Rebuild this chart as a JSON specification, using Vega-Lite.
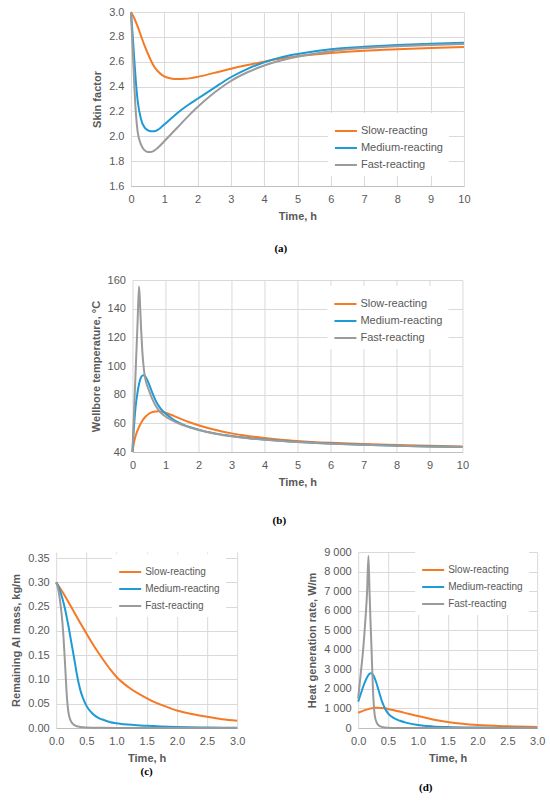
{
  "$schema": "https://vega.github.io/schema/vega-lite/v6.json",
  "padding": {"left": 10, "top": 6, "right": 2, "bottom": 5},
  "config": {
    "font": "Liberation Sans",
    "view": {"stroke": null},
    "axis": {
      "labelFontSize": 11,
      "labelColor": "#595959",
      "titleFontSize": 11,
      "titleColor": "#595959",
      "titleFontWeight": "bold",
      "gridColor": "#D9D9D9",
      "domainColor": "#BFBFBF",
      "ticks": false,
      "labelPadding": 7,
      "titlePadding": 6,
      "labelFlush": false
    },
    "axisY": {"domain": false},
    "legend": {
      "labelFontSize": 11,
      "labelColor": "#595959",
      "symbolType": "stroke",
      "symbolSize": 484,
      "symbolStrokeWidth": 2,
      "fillColor": "white",
      "padding": 6,
      "rowPadding": -5,
      "labelOffset": 3
    },
    "title": {
      "font": "Liberation Serif",
      "fontSize": 11,
      "fontWeight": "bold",
      "color": "#000000",
      "orient": "bottom",
      "anchor": "middle"
    },
    "line": {"strokeWidth": 2, "interpolate": "monotone"}
  },
  "datasets": {
    "skin": [
      {"s": "Slow-reacting", "t": 0, "v": 3.0},
      {"s": "Slow-reacting", "t": 0.1, "v": 2.95},
      {"s": "Slow-reacting", "t": 0.2, "v": 2.885},
      {"s": "Slow-reacting", "t": 0.3, "v": 2.81},
      {"s": "Slow-reacting", "t": 0.4, "v": 2.735},
      {"s": "Slow-reacting", "t": 0.5, "v": 2.67},
      {"s": "Slow-reacting", "t": 0.6, "v": 2.61},
      {"s": "Slow-reacting", "t": 0.7, "v": 2.56},
      {"s": "Slow-reacting", "t": 0.8, "v": 2.525},
      {"s": "Slow-reacting", "t": 0.9, "v": 2.5},
      {"s": "Slow-reacting", "t": 1.0, "v": 2.482},
      {"s": "Slow-reacting", "t": 1.2, "v": 2.465},
      {"s": "Slow-reacting", "t": 1.4, "v": 2.46},
      {"s": "Slow-reacting", "t": 1.6, "v": 2.462},
      {"s": "Slow-reacting", "t": 1.8, "v": 2.468},
      {"s": "Slow-reacting", "t": 2.0, "v": 2.478},
      {"s": "Slow-reacting", "t": 2.5, "v": 2.51},
      {"s": "Slow-reacting", "t": 3.0, "v": 2.543},
      {"s": "Slow-reacting", "t": 3.5, "v": 2.573},
      {"s": "Slow-reacting", "t": 4.0, "v": 2.6},
      {"s": "Slow-reacting", "t": 4.5, "v": 2.625},
      {"s": "Slow-reacting", "t": 5.0, "v": 2.645},
      {"s": "Slow-reacting", "t": 6, "v": 2.67},
      {"s": "Slow-reacting", "t": 7, "v": 2.688},
      {"s": "Slow-reacting", "t": 8, "v": 2.7},
      {"s": "Slow-reacting", "t": 9, "v": 2.71},
      {"s": "Slow-reacting", "t": 10, "v": 2.718},
      {"s": "Medium-reacting", "t": 0, "v": 3.0},
      {"s": "Medium-reacting", "t": 0.05, "v": 2.82},
      {"s": "Medium-reacting", "t": 0.1, "v": 2.62},
      {"s": "Medium-reacting", "t": 0.15, "v": 2.43},
      {"s": "Medium-reacting", "t": 0.2, "v": 2.29},
      {"s": "Medium-reacting", "t": 0.3, "v": 2.14},
      {"s": "Medium-reacting", "t": 0.4, "v": 2.075},
      {"s": "Medium-reacting", "t": 0.5, "v": 2.05},
      {"s": "Medium-reacting", "t": 0.6, "v": 2.04},
      {"s": "Medium-reacting", "t": 0.7, "v": 2.04},
      {"s": "Medium-reacting", "t": 0.8, "v": 2.051},
      {"s": "Medium-reacting", "t": 0.9, "v": 2.071},
      {"s": "Medium-reacting", "t": 1.0, "v": 2.094},
      {"s": "Medium-reacting", "t": 1.25, "v": 2.154},
      {"s": "Medium-reacting", "t": 1.5, "v": 2.21},
      {"s": "Medium-reacting", "t": 1.75, "v": 2.258},
      {"s": "Medium-reacting", "t": 2.0, "v": 2.302},
      {"s": "Medium-reacting", "t": 2.5, "v": 2.39},
      {"s": "Medium-reacting", "t": 3.0, "v": 2.475},
      {"s": "Medium-reacting", "t": 3.5, "v": 2.543},
      {"s": "Medium-reacting", "t": 4.0, "v": 2.595},
      {"s": "Medium-reacting", "t": 4.5, "v": 2.635},
      {"s": "Medium-reacting", "t": 5.0, "v": 2.662},
      {"s": "Medium-reacting", "t": 6, "v": 2.7},
      {"s": "Medium-reacting", "t": 7, "v": 2.72},
      {"s": "Medium-reacting", "t": 8, "v": 2.735},
      {"s": "Medium-reacting", "t": 9, "v": 2.745},
      {"s": "Medium-reacting", "t": 10, "v": 2.752},
      {"s": "Fast-reacting", "t": 0, "v": 3.0},
      {"s": "Fast-reacting", "t": 0.05, "v": 2.72},
      {"s": "Fast-reacting", "t": 0.1, "v": 2.42},
      {"s": "Fast-reacting", "t": 0.15, "v": 2.18},
      {"s": "Fast-reacting", "t": 0.2, "v": 2.04},
      {"s": "Fast-reacting", "t": 0.3, "v": 1.935},
      {"s": "Fast-reacting", "t": 0.4, "v": 1.89},
      {"s": "Fast-reacting", "t": 0.5, "v": 1.873},
      {"s": "Fast-reacting", "t": 0.6, "v": 1.874},
      {"s": "Fast-reacting", "t": 0.7, "v": 1.885},
      {"s": "Fast-reacting", "t": 0.8, "v": 1.905},
      {"s": "Fast-reacting", "t": 1.0, "v": 1.96},
      {"s": "Fast-reacting", "t": 1.25, "v": 2.03},
      {"s": "Fast-reacting", "t": 1.5, "v": 2.1},
      {"s": "Fast-reacting", "t": 1.75, "v": 2.17},
      {"s": "Fast-reacting", "t": 2.0, "v": 2.235},
      {"s": "Fast-reacting", "t": 2.5, "v": 2.35},
      {"s": "Fast-reacting", "t": 3.0, "v": 2.445},
      {"s": "Fast-reacting", "t": 3.5, "v": 2.515},
      {"s": "Fast-reacting", "t": 4.0, "v": 2.57},
      {"s": "Fast-reacting", "t": 4.5, "v": 2.61},
      {"s": "Fast-reacting", "t": 5.0, "v": 2.64},
      {"s": "Fast-reacting", "t": 6, "v": 2.685},
      {"s": "Fast-reacting", "t": 7, "v": 2.71},
      {"s": "Fast-reacting", "t": 8, "v": 2.725},
      {"s": "Fast-reacting", "t": 9, "v": 2.735},
      {"s": "Fast-reacting", "t": 10, "v": 2.742}
    ],
    "temp": [
      {"s": "Slow-reacting", "t": 0, "v": 40},
      {"s": "Slow-reacting", "t": 0.05, "v": 47},
      {"s": "Slow-reacting", "t": 0.1, "v": 51.5},
      {"s": "Slow-reacting", "t": 0.2, "v": 57.5},
      {"s": "Slow-reacting", "t": 0.3, "v": 61.8},
      {"s": "Slow-reacting", "t": 0.4, "v": 64.8},
      {"s": "Slow-reacting", "t": 0.5, "v": 66.7},
      {"s": "Slow-reacting", "t": 0.6, "v": 67.8},
      {"s": "Slow-reacting", "t": 0.7, "v": 68.3},
      {"s": "Slow-reacting", "t": 0.8, "v": 68.4},
      {"s": "Slow-reacting", "t": 0.9, "v": 68.1},
      {"s": "Slow-reacting", "t": 1.0, "v": 67.4},
      {"s": "Slow-reacting", "t": 1.25, "v": 65.2},
      {"s": "Slow-reacting", "t": 1.5, "v": 62.8},
      {"s": "Slow-reacting", "t": 1.75, "v": 60.6},
      {"s": "Slow-reacting", "t": 2.0, "v": 58.7},
      {"s": "Slow-reacting", "t": 2.5, "v": 55.5},
      {"s": "Slow-reacting", "t": 3.0, "v": 53.0},
      {"s": "Slow-reacting", "t": 3.5, "v": 51.2},
      {"s": "Slow-reacting", "t": 4.0, "v": 49.8},
      {"s": "Slow-reacting", "t": 4.5, "v": 48.6},
      {"s": "Slow-reacting", "t": 5.0, "v": 47.7},
      {"s": "Slow-reacting", "t": 6, "v": 46.4},
      {"s": "Slow-reacting", "t": 7, "v": 45.5},
      {"s": "Slow-reacting", "t": 8, "v": 44.8},
      {"s": "Slow-reacting", "t": 9, "v": 44.3},
      {"s": "Slow-reacting", "t": 10, "v": 43.9},
      {"s": "Medium-reacting", "t": 0, "v": 40},
      {"s": "Medium-reacting", "t": 0.03, "v": 52},
      {"s": "Medium-reacting", "t": 0.06, "v": 62},
      {"s": "Medium-reacting", "t": 0.1, "v": 72.5},
      {"s": "Medium-reacting", "t": 0.15, "v": 81},
      {"s": "Medium-reacting", "t": 0.2, "v": 87.5},
      {"s": "Medium-reacting", "t": 0.25, "v": 91.5},
      {"s": "Medium-reacting", "t": 0.3, "v": 93.3},
      {"s": "Medium-reacting", "t": 0.35, "v": 93.5},
      {"s": "Medium-reacting", "t": 0.4, "v": 92.3},
      {"s": "Medium-reacting", "t": 0.5, "v": 87.5},
      {"s": "Medium-reacting", "t": 0.6, "v": 81.5},
      {"s": "Medium-reacting", "t": 0.7, "v": 76},
      {"s": "Medium-reacting", "t": 0.8, "v": 72},
      {"s": "Medium-reacting", "t": 0.9, "v": 69},
      {"s": "Medium-reacting", "t": 1.0, "v": 66.8},
      {"s": "Medium-reacting", "t": 1.25, "v": 62.5},
      {"s": "Medium-reacting", "t": 1.5, "v": 59.5},
      {"s": "Medium-reacting", "t": 1.75, "v": 57.3},
      {"s": "Medium-reacting", "t": 2.0, "v": 55.6},
      {"s": "Medium-reacting", "t": 2.5, "v": 53.0},
      {"s": "Medium-reacting", "t": 3.0, "v": 51.2},
      {"s": "Medium-reacting", "t": 3.5, "v": 49.8},
      {"s": "Medium-reacting", "t": 4.0, "v": 48.7},
      {"s": "Medium-reacting", "t": 5.0, "v": 47.0},
      {"s": "Medium-reacting", "t": 6, "v": 45.9},
      {"s": "Medium-reacting", "t": 7, "v": 45.0},
      {"s": "Medium-reacting", "t": 8, "v": 44.4},
      {"s": "Medium-reacting", "t": 9, "v": 43.9},
      {"s": "Medium-reacting", "t": 10, "v": 43.5},
      {"s": "Fast-reacting", "t": 0, "v": 40},
      {"s": "Fast-reacting", "t": 0.05, "v": 69},
      {"s": "Fast-reacting", "t": 0.1, "v": 98},
      {"s": "Fast-reacting", "t": 0.15, "v": 127},
      {"s": "Fast-reacting", "t": 0.2, "v": 155.5},
      {"s": "Fast-reacting", "t": 0.23, "v": 143},
      {"s": "Fast-reacting", "t": 0.26, "v": 127},
      {"s": "Fast-reacting", "t": 0.3, "v": 110},
      {"s": "Fast-reacting", "t": 0.35, "v": 97},
      {"s": "Fast-reacting", "t": 0.4, "v": 90},
      {"s": "Fast-reacting", "t": 0.5, "v": 83},
      {"s": "Fast-reacting", "t": 0.6, "v": 77},
      {"s": "Fast-reacting", "t": 0.7, "v": 72.5},
      {"s": "Fast-reacting", "t": 0.8, "v": 69},
      {"s": "Fast-reacting", "t": 0.9, "v": 66.5},
      {"s": "Fast-reacting", "t": 1.0, "v": 64.8},
      {"s": "Fast-reacting", "t": 1.25, "v": 61.5},
      {"s": "Fast-reacting", "t": 1.5, "v": 59},
      {"s": "Fast-reacting", "t": 1.75, "v": 57},
      {"s": "Fast-reacting", "t": 2.0, "v": 55.3},
      {"s": "Fast-reacting", "t": 2.5, "v": 52.8},
      {"s": "Fast-reacting", "t": 3.0, "v": 51},
      {"s": "Fast-reacting", "t": 3.5, "v": 49.6},
      {"s": "Fast-reacting", "t": 4.0, "v": 48.5},
      {"s": "Fast-reacting", "t": 5.0, "v": 46.9},
      {"s": "Fast-reacting", "t": 6, "v": 45.8},
      {"s": "Fast-reacting", "t": 7, "v": 45},
      {"s": "Fast-reacting", "t": 8, "v": 44.4},
      {"s": "Fast-reacting", "t": 9, "v": 43.9},
      {"s": "Fast-reacting", "t": 10, "v": 43.5}
    ],
    "mass": [
      {"s": "Slow-reacting", "t": 0, "v": 0.3},
      {"s": "Slow-reacting", "t": 0.1, "v": 0.281},
      {"s": "Slow-reacting", "t": 0.2, "v": 0.26},
      {"s": "Slow-reacting", "t": 0.3, "v": 0.238},
      {"s": "Slow-reacting", "t": 0.4, "v": 0.216},
      {"s": "Slow-reacting", "t": 0.5, "v": 0.195},
      {"s": "Slow-reacting", "t": 0.6, "v": 0.174},
      {"s": "Slow-reacting", "t": 0.7, "v": 0.155},
      {"s": "Slow-reacting", "t": 0.8, "v": 0.137},
      {"s": "Slow-reacting", "t": 0.9, "v": 0.12},
      {"s": "Slow-reacting", "t": 1.0, "v": 0.105},
      {"s": "Slow-reacting", "t": 1.2, "v": 0.084},
      {"s": "Slow-reacting", "t": 1.4, "v": 0.068},
      {"s": "Slow-reacting", "t": 1.6, "v": 0.055},
      {"s": "Slow-reacting", "t": 1.8, "v": 0.045},
      {"s": "Slow-reacting", "t": 2.0, "v": 0.036},
      {"s": "Slow-reacting", "t": 2.25, "v": 0.029},
      {"s": "Slow-reacting", "t": 2.5, "v": 0.023},
      {"s": "Slow-reacting", "t": 2.75, "v": 0.018},
      {"s": "Slow-reacting", "t": 3.0, "v": 0.015},
      {"s": "Medium-reacting", "t": 0, "v": 0.3},
      {"s": "Medium-reacting", "t": 0.05, "v": 0.287},
      {"s": "Medium-reacting", "t": 0.1, "v": 0.268},
      {"s": "Medium-reacting", "t": 0.15, "v": 0.243},
      {"s": "Medium-reacting", "t": 0.2, "v": 0.212},
      {"s": "Medium-reacting", "t": 0.25, "v": 0.177},
      {"s": "Medium-reacting", "t": 0.3, "v": 0.142},
      {"s": "Medium-reacting", "t": 0.35, "v": 0.106},
      {"s": "Medium-reacting", "t": 0.4, "v": 0.078},
      {"s": "Medium-reacting", "t": 0.45, "v": 0.06},
      {"s": "Medium-reacting", "t": 0.5, "v": 0.046},
      {"s": "Medium-reacting", "t": 0.6, "v": 0.03},
      {"s": "Medium-reacting", "t": 0.7, "v": 0.021},
      {"s": "Medium-reacting", "t": 0.8, "v": 0.016},
      {"s": "Medium-reacting", "t": 0.9, "v": 0.012},
      {"s": "Medium-reacting", "t": 1.0, "v": 0.01},
      {"s": "Medium-reacting", "t": 1.25, "v": 0.0065},
      {"s": "Medium-reacting", "t": 1.5, "v": 0.0045},
      {"s": "Medium-reacting", "t": 2.0, "v": 0.002},
      {"s": "Medium-reacting", "t": 2.5, "v": 0.001},
      {"s": "Medium-reacting", "t": 3.0, "v": 0.0005},
      {"s": "Fast-reacting", "t": 0, "v": 0.3},
      {"s": "Fast-reacting", "t": 0.03, "v": 0.288},
      {"s": "Fast-reacting", "t": 0.06, "v": 0.266},
      {"s": "Fast-reacting", "t": 0.09, "v": 0.235},
      {"s": "Fast-reacting", "t": 0.12, "v": 0.19},
      {"s": "Fast-reacting", "t": 0.15, "v": 0.125},
      {"s": "Fast-reacting", "t": 0.18, "v": 0.06},
      {"s": "Fast-reacting", "t": 0.2, "v": 0.035},
      {"s": "Fast-reacting", "t": 0.22, "v": 0.022},
      {"s": "Fast-reacting", "t": 0.25, "v": 0.013},
      {"s": "Fast-reacting", "t": 0.3, "v": 0.006},
      {"s": "Fast-reacting", "t": 0.4, "v": 0.002},
      {"s": "Fast-reacting", "t": 0.5, "v": 0.001},
      {"s": "Fast-reacting", "t": 0.75, "v": 0.0003},
      {"s": "Fast-reacting", "t": 1.0, "v": 0.0001},
      {"s": "Fast-reacting", "t": 2.0, "v": 0},
      {"s": "Fast-reacting", "t": 3.0, "v": 0}
    ],
    "heat": [
      {"s": "Slow-reacting", "t": 0, "v": 780},
      {"s": "Slow-reacting", "t": 0.1, "v": 900},
      {"s": "Slow-reacting", "t": 0.2, "v": 990},
      {"s": "Slow-reacting", "t": 0.3, "v": 1030},
      {"s": "Slow-reacting", "t": 0.4, "v": 1020},
      {"s": "Slow-reacting", "t": 0.5, "v": 975},
      {"s": "Slow-reacting", "t": 0.6, "v": 910},
      {"s": "Slow-reacting", "t": 0.75, "v": 800},
      {"s": "Slow-reacting", "t": 1.0, "v": 610},
      {"s": "Slow-reacting", "t": 1.25, "v": 440},
      {"s": "Slow-reacting", "t": 1.5, "v": 310},
      {"s": "Slow-reacting", "t": 1.75, "v": 215},
      {"s": "Slow-reacting", "t": 2.0, "v": 150},
      {"s": "Slow-reacting", "t": 2.5, "v": 85},
      {"s": "Slow-reacting", "t": 3.0, "v": 50},
      {"s": "Medium-reacting", "t": 0, "v": 1350},
      {"s": "Medium-reacting", "t": 0.05, "v": 1800},
      {"s": "Medium-reacting", "t": 0.1, "v": 2250},
      {"s": "Medium-reacting", "t": 0.15, "v": 2600},
      {"s": "Medium-reacting", "t": 0.2, "v": 2790},
      {"s": "Medium-reacting", "t": 0.215, "v": 2800},
      {"s": "Medium-reacting", "t": 0.25, "v": 2720},
      {"s": "Medium-reacting", "t": 0.3, "v": 2350},
      {"s": "Medium-reacting", "t": 0.35, "v": 1850},
      {"s": "Medium-reacting", "t": 0.4, "v": 1350},
      {"s": "Medium-reacting", "t": 0.45, "v": 1000},
      {"s": "Medium-reacting", "t": 0.5, "v": 750},
      {"s": "Medium-reacting", "t": 0.6, "v": 500},
      {"s": "Medium-reacting", "t": 0.7, "v": 370},
      {"s": "Medium-reacting", "t": 0.8, "v": 275},
      {"s": "Medium-reacting", "t": 1.0, "v": 150},
      {"s": "Medium-reacting", "t": 1.25, "v": 80},
      {"s": "Medium-reacting", "t": 1.5, "v": 50},
      {"s": "Medium-reacting", "t": 2.0, "v": 22},
      {"s": "Medium-reacting", "t": 2.5, "v": 10},
      {"s": "Medium-reacting", "t": 3.0, "v": 5},
      {"s": "Fast-reacting", "t": 0, "v": 1500},
      {"s": "Fast-reacting", "t": 0.04, "v": 2700},
      {"s": "Fast-reacting", "t": 0.08, "v": 3900},
      {"s": "Fast-reacting", "t": 0.12, "v": 5500},
      {"s": "Fast-reacting", "t": 0.15, "v": 7000},
      {"s": "Fast-reacting", "t": 0.172, "v": 8800},
      {"s": "Fast-reacting", "t": 0.19, "v": 7000},
      {"s": "Fast-reacting", "t": 0.205, "v": 5600},
      {"s": "Fast-reacting", "t": 0.222, "v": 4200},
      {"s": "Fast-reacting", "t": 0.25, "v": 1800},
      {"s": "Fast-reacting", "t": 0.278, "v": 650},
      {"s": "Fast-reacting", "t": 0.31, "v": 280},
      {"s": "Fast-reacting", "t": 0.35, "v": 120},
      {"s": "Fast-reacting", "t": 0.4, "v": 55},
      {"s": "Fast-reacting", "t": 0.5, "v": 12},
      {"s": "Fast-reacting", "t": 0.7, "v": 2},
      {"s": "Fast-reacting", "t": 1.0, "v": 0},
      {"s": "Fast-reacting", "t": 3.0, "v": 0}
    ]
  },
  "center": true,
  "spacing": 20,
  "resolve": {"scale": {"color": "independent"}, "legend": {"color": "independent"}},
  "vconcat": [
    {
      "width": 333,
      "height": 174,
      "data": {"name": "skin"},
      "title": {"text": "(a)", "offset": 22, "frame": "bounds"},
      "mark": {"type": "line"},
      "encoding": {
        "x": {"field": "t", "type": "quantitative", "scale": {"domain": [0, 10], "nice": false},
              "axis": {"title": "Time, h", "values": [0, 1, 2, 3, 4, 5, 6, 7, 8, 9, 10], "format": "d"}},
        "y": {"field": "v", "type": "quantitative", "scale": {"domain": [1.6, 3.0], "nice": false, "zero": false},
              "axis": {"title": "Skin factor", "values": [1.6, 1.8, 2.0, 2.2, 2.4, 2.6, 2.8, 3.0], "format": ".1f"}},
        "color": {"field": "s", "type": "nominal",
                  "scale": {"domain": ["Slow-reacting", "Medium-reacting", "Fast-reacting"], "range": ["#F57A25", "#1E9AD6", "#9B9B9B"]},
                  "legend": {"title": null, "orient": "none", "legendX": 197, "legendY": 101}}
      }
    },
    {
      "width": 330,
      "height": 172,
      "data": {"name": "temp"},
      "title": {"text": "(b)", "offset": 28, "frame": "bounds"},
      "mark": {"type": "line"},
      "encoding": {
        "x": {"field": "t", "type": "quantitative", "scale": {"domain": [0, 10], "nice": false},
              "axis": {"title": "Time, h", "values": [0, 1, 2, 3, 4, 5, 6, 7, 8, 9, 10], "format": "d"}},
        "y": {"field": "v", "type": "quantitative", "scale": {"domain": [40, 160], "nice": false, "zero": false},
              "axis": {"title": "Wellbore temperature, °C", "values": [40, 60, 80, 100, 120, 140, 160], "format": "d"}},
        "color": {"field": "s", "type": "nominal",
                  "scale": {"domain": ["Slow-reacting", "Medium-reacting", "Fast-reacting"], "range": ["#F57A25", "#1E9AD6", "#9B9B9B"]},
                  "legend": {"title": null, "orient": "none", "legendX": 195, "legendY": 6}}
      }
    },
    {
      "spacing": 61,
      "resolve": {"scale": {"color": "independent"}, "legend": {"color": "independent"}},
      "hconcat": [
        {
          "width": 181,
          "height": 176,
          "data": {"name": "mass"},
          "title": {"text": "(c)", "offset": 3, "frame": "group"},
          "mark": {"type": "line"},
          "encoding": {
            "x": {"field": "t", "type": "quantitative", "scale": {"domain": [0, 3], "nice": false},
                  "axis": {"title": "Time, h", "values": [0, 0.5, 1, 1.5, 2, 2.5, 3], "format": ".1f"}},
            "y": {"field": "v", "type": "quantitative", "scale": {"domain": [0, 0.3624], "nice": false},
                  "axis": {"title": "Remaining Al mass, kg/m", "values": [0, 0.05, 0.1, 0.15, 0.2, 0.25, 0.3, 0.35], "format": ".2f"}},
            "color": {"field": "s", "type": "nominal",
                      "scale": {"domain": ["Slow-reacting", "Medium-reacting", "Fast-reacting"], "range": ["#F57A25", "#1E9AD6", "#9B9B9B"]},
                      "legend": {"title": null, "orient": "none", "legendX": 56, "legendY": 2, "labelFontSize": 10, "rowPadding": -6}}
          }
        },
        {
          "width": 179,
          "height": 176,
          "data": {"name": "heat"},
          "title": {"text": "(d)", "offset": 19, "frame": "bounds"},
          "mark": {"type": "line"},
          "encoding": {
            "x": {"field": "t", "type": "quantitative", "scale": {"domain": [0, 3], "nice": false},
                  "axis": {"title": "Time, h", "values": [0, 0.5, 1, 1.5, 2, 2.5, 3], "format": ".1f"}},
            "y": {"field": "v", "type": "quantitative", "scale": {"domain": [0, 9000], "nice": false},
                  "axis": {"title": "Heat generation rate, W/m", "values": [0, 1000, 2000, 3000, 4000, 5000, 6000, 7000, 8000, 9000],
                           "labelExpr": "replace(format(datum.value, ','), ',', ' ')"}},
            "color": {"field": "s", "type": "nominal",
                      "scale": {"domain": ["Slow-reacting", "Medium-reacting", "Fast-reacting"], "range": ["#F57A25", "#1E9AD6", "#9B9B9B"]},
                      "legend": {"title": null, "orient": "none", "legendX": 57, "legendY": 0, "labelFontSize": 10, "rowPadding": -3.5}}
          }
        }
      ]
    }
  ]
}
